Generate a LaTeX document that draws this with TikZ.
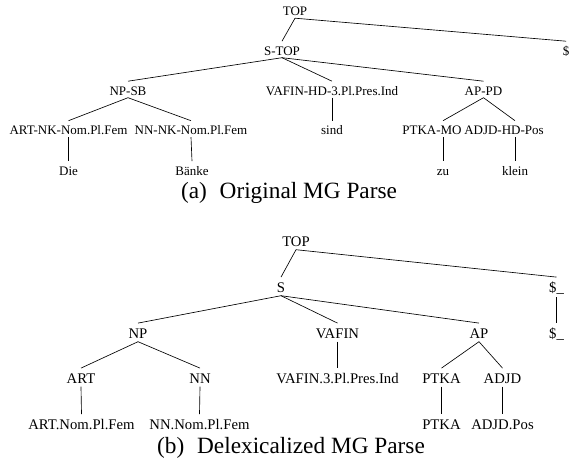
\documentclass[tikz,border=0pt]{standalone}
\usepackage{fontspec}
\setmainfont{Liberation Serif}
\begin{document}
\begin{tikzpicture}[x=1pt,y=-1pt,
  lbA/.style={inner sep=0pt,anchor=base,font=\fontsize{13}{15}\selectfont,text height=8.6pt,text depth=0pt},
  lbB/.style={inner sep=0pt,anchor=base,font=\fontsize{14.7}{17}\selectfont,text height=9.7pt,text depth=0pt},
  captxt/.style={inner sep=0pt,anchor=base,font=\fontsize{23.3}{27}\selectfont},
  br/.style={line width=0.65pt}]
\useasboundingbox (0,0) rectangle (570,463);
% ---------- (a) ----------
\node[lbA] (topA)    at (295,15.5) {TOP};
\node[lbA] (stopA)   at (282,55) {S-TOP};
\node[lbA,anchor=base east] (dolA) at (569.5,55) {\$};
\node[lbA] (npsbA)   at (128,95) {NP-SB};
\node[lbA] (vafinA)  at (332,95) {VAFIN-HD-3.Pl.Pres.Ind};
\node[lbA] (appdA)   at (483.5,95) {AP-PD};
\node[lbA] (artA)    at (68.5,134.5) {ART-NK-Nom.Pl.Fem};
\node[lbA] (nnA)     at (191,134.5) {NN-NK-Nom.Pl.Fem};
\node[lbA] (sindA)   at (332,134.5) {sind};
\node[lbA] (ptkaA)   at (432,134.5) {PTKA-MO};
\node[lbA] (adjdA)   at (504,134.5) {ADJD-HD-Pos};
\node[lbA] (dieA)    at (68.5,175) {Die};
\node[lbA] (baenkeA) at (192,175) {Bänke};
\node[lbA] (zuA)     at (443,175) {zu};
\node[lbA] (kleinA)  at (515,175) {klein};
\begin{scope}[br]
\draw ([yshift=-2.5pt]topA.south) -- ([yshift=5pt]dolA.north);
\draw ([yshift=-2.5pt]topA.south) -- ([yshift=5pt]stopA.north);
\draw ([yshift=-2.5pt]stopA.south) -- ([yshift=5pt]npsbA.north);
\draw ([yshift=-2.5pt]stopA.south) -- ([yshift=5pt]vafinA.north);
\draw ([yshift=-2.5pt]stopA.south) -- ([yshift=5pt]appdA.north);
\draw ([yshift=-2.5pt]npsbA.south) -- ([yshift=5pt]artA.north);
\draw ([yshift=-2.5pt]npsbA.south) -- ([yshift=5pt]nnA.north);
\draw ([yshift=-2.5pt]vafinA.south) -- ([yshift=5pt]sindA.north);
\draw ([yshift=-2.5pt]appdA.south) -- ([xshift=11pt,yshift=5pt]ptkaA.north);
\draw ([yshift=-2.5pt]appdA.south) -- ([xshift=11pt,yshift=5pt]adjdA.north);
\draw ([yshift=-2.5pt]artA.south) -- ([yshift=5pt]dieA.north);
\draw ([yshift=-2.5pt]nnA.south) -- ([yshift=5pt]baenkeA.north);
\draw ([xshift=11pt,yshift=-2.5pt]ptkaA.south) -- ([yshift=5pt]zuA.north);
\draw ([xshift=11pt,yshift=-2.5pt]adjdA.south) -- ([yshift=5pt]kleinA.north);
\end{scope}
\node[captxt] (capA) at (289,198) {(a)\hspace{0.55em}Original MG Parse};
% ---------- (b) ----------
\node[lbB] (topB)    at (296,246) {TOP};
\node[lbB] (sB)      at (281,292) {S};
\node[lbB] (dolB)    at (556.5,292) {\$\_};
\node[lbB] (npB)     at (138,338) {NP};
\node[lbB] (vafinB)  at (337.5,338) {VAFIN};
\node[lbB] (apB)     at (479,338) {AP};
\node[lbB] (dolBB)   at (556.5,338) {\$\_};
\node[lbB] (artB)    at (81,383) {ART};
\node[lbB] (nnB)     at (200,383) {NN};
\node[lbB] (vafinpB) at (337.5,383) {VAFIN.3.Pl.Pres.Ind};
\node[lbB] (ptkaB)   at (441.5,383) {PTKA};
\node[lbB] (adjdB)   at (502.5,383) {ADJD};
\node[lbB] (artlB)   at (81.5,429) {ART.Nom.Pl.Fem};
\node[lbB] (nnlB)    at (199.5,429) {NN.Nom.Pl.Fem};
\node[lbB] (ptkalB)  at (441.5,429) {PTKA};
\node[lbB] (adjdlB)  at (502.5,429) {ADJD.Pos};
\begin{scope}[br]
\draw ([yshift=-3.5pt]topB.south) -- ([yshift=5pt]sB.north);
\draw ([yshift=-3.5pt]topB.south) -- ([yshift=5pt]dolB.north);
\draw ([yshift=-3.5pt]sB.south) -- ([yshift=5pt]npB.north);
\draw ([yshift=-3.5pt]sB.south) -- ([yshift=5pt]vafinB.north);
\draw ([yshift=-3.5pt]sB.south) -- ([yshift=5pt]apB.north);
\draw ([yshift=-5pt]dolB.south) -- ([yshift=5pt]dolBB.north);
\draw ([yshift=-3.5pt]npB.south) -- ([yshift=5pt]artB.north);
\draw ([yshift=-3.5pt]npB.south) -- ([yshift=5pt]nnB.north);
\draw ([yshift=-3.5pt]vafinB.south) -- ([yshift=5pt]vafinpB.north);
\draw ([yshift=-3.5pt]apB.south) -- ([yshift=5pt]ptkaB.north);
\draw ([yshift=-3.5pt]apB.south) -- ([yshift=5pt]adjdB.north);
\draw ([yshift=-3.5pt]artB.south) -- ([yshift=5pt]artlB.north);
\draw ([yshift=-3.5pt]nnB.south) -- ([yshift=5pt]nnlB.north);
\draw ([yshift=-3.5pt]ptkaB.south) -- ([yshift=5pt]ptkalB.north);
\draw ([yshift=-3.5pt]adjdB.south) -- ([yshift=5pt]adjdlB.north);
\end{scope}
\node[captxt] (capB) at (291,453) {(b)\hspace{0.55em}Delexicalized MG Parse};
\end{tikzpicture}
\end{document}
